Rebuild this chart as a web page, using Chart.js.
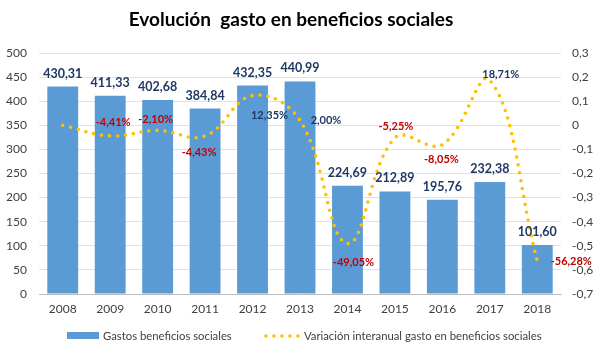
<!DOCTYPE html>
<html>
<head>
<meta charset="utf-8">
<script src="https://cdn.jsdelivr.net/npm/chart.js@4"></script>
<style>
  html, body { margin: 0; padding: 0; background: #ffffff; }
  #wrap { width: 600px; height: 355px; }
</style>
</head>
<body>
<div id="wrap"><canvas id="c" width="600" height="355"></canvas></div>
<script>
// ---- Data ----
const categories = ['2008','2009','2010','2011','2012','2013','2014','2015','2016','2017','2018'];
const gastos = [430.31, 411.33, 402.68, 384.84, 432.35, 440.99, 224.69, 212.89, 195.76, 232.38, 101.60];
const variacion = [0, -0.0441, -0.0210, -0.0443, 0.1235, 0.0200, -0.4905, -0.0525, -0.0805, 0.1871, -0.5628];
const showVarLabel = [false, true, true, true, true, true, true, true, true, true, true];
const leftTicks = [0, 50, 100, 150, 200, 250, 300, 350, 400, 450, 500];
const rightTicks = [-0.7, -0.6, -0.5, -0.4, -0.3, -0.2, -0.1, 0, 0.1, 0.2, 0.3];
const titleText = 'Evolución  gasto en beneficios sociales';
const seriesNames = ['Gastos beneficios sociales', 'Variación interanual gasto en beneficios sociales'];

// label placement offsets relative to each line point [dx, dy]
const varLabelOffset = [[0,0],[3,-13],[-2,-11],[-6,16],[17,20],[26,0],[6,19],[1,-11],[-1,15],[11,-6],[34,1]];

const BAR_COLOR = '#5B9BD5';
const LINE_COLOR = '#FFC000';
const NAVY = '#1F3864';
const RED = '#C00000';
const FONT = 'Lato, "Noto Sans", sans-serif';

function fmtComma(v, d) {
  return v.toFixed(d).replace('.', ',');
}

const labelPlugin = {
  id: 'labels',
  afterDatasetsDraw(chart) {
    const ctx = chart.ctx;
    ctx.save();
    // bar labels
    const m0 = chart.getDatasetMeta(0);
    ctx.font = 'bold 12.5px ' + FONT;
    ctx.fillStyle = NAVY;
    ctx.textAlign = 'center';
    ctx.textBaseline = 'middle';
    m0.data.forEach((el, i) => {
      ctx.fillText(fmtComma(gastos[i], 2), el.x, el.y - 13);
    });
    // line labels
    const m1 = chart.getDatasetMeta(1);
    ctx.font = 'bold 11px ' + FONT;
    m1.data.forEach((el, i) => {
      if (!showVarLabel[i]) return;
      const v = variacion[i];
      ctx.fillStyle = v < 0 ? RED : NAVY;
      const [dx, dy] = varLabelOffset[i];
      ctx.fillText(fmtComma(v * 100, 2) + '%', el.x + dx, el.y + dy);
    });
    ctx.restore();
  },
  afterDraw(chart) {
    const ctx = chart.ctx;
    ctx.save();
    // title
    ctx.font = 'bold 19px ' + FONT;
    ctx.fillStyle = '#000000';
    ctx.textAlign = 'center';
    ctx.textBaseline = 'middle';
    ctx.fillText(titleText, 291, 20);
    // legend
    const ly = 335;
    ctx.fillStyle = BAR_COLOR;
    ctx.fillRect(67, ly - 3, 32, 7);
    ctx.font = '11.3px ' + FONT;
    ctx.fillStyle = '#404040';
    ctx.textAlign = 'left';
    ctx.fillText(seriesNames[0], 103, ly + 1);
    ctx.fillStyle = LINE_COLOR;
    for (let k = 0; k < 5; k++) {
      ctx.beginPath();
      ctx.arc(266 + k * 8, ly + 1, 1.8, 0, Math.PI * 2);
      ctx.fill();
    }
    ctx.fillStyle = '#404040';
    ctx.fillText(seriesNames[1], 304, ly + 1);
    ctx.restore();
  }
};

new Chart(document.getElementById('c'), {
  data: {
    labels: categories,
    datasets: [
      {
        type: 'bar',
        label: seriesNames[0],
        data: gastos,
        backgroundColor: BAR_COLOR,
        yAxisID: 'y',
        order: 2,
        categoryPercentage: 1.0,
        barPercentage: 0.65
      },
      {
        type: 'line',
        label: seriesNames[1],
        data: variacion,
        borderColor: LINE_COLOR,
        borderWidth: 3.6,
        borderDash: [0, 8],
        borderCapStyle: 'round',
        tension: 0.4,
        pointRadius: 0,
        fill: false,
        yAxisID: 'y1',
        order: 1
      }
    ]
  },
  options: {
    responsive: false,
    animation: false,
    devicePixelRatio: 1,
    layout: { padding: { top: 53, bottom: 31, left: 0, right: 0 } },
    plugins: {
      legend: { display: false },
      title: { display: false },
      tooltip: { enabled: false }
    },
    scales: {
      x: {
        grid: { display: false, drawTicks: false },
        border: { display: true, color: '#BFBFBF' },
        ticks: { font: { family: FONT, size: 12 }, color: '#404040', padding: 8 },
        afterFit(s) { s.height = 30; }
      },
      y: {
        position: 'left',
        min: 0, max: 500,
        afterBuildTicks(s) { s.ticks = leftTicks.map(v => ({ value: v })); },
        grid: { color: '#D9E2EF', drawTicks: false },
        border: { display: false },
        ticks: { font: { family: FONT, size: 12 }, color: '#404040', padding: 12 },
        afterFit(s) { s.width = 39; }
      },
      y1: {
        position: 'right',
        min: -0.7, max: 0.3,
        afterBuildTicks(s) { s.ticks = rightTicks.map(v => ({ value: v })); },
        grid: { display: false, drawTicks: false },
        border: { display: false },
        ticks: {
          font: { family: FONT, size: 12 }, color: '#404040', padding: 11,
          callback(v) { return Math.abs(v) < 1e-9 ? '0' : fmtComma(v, 1); }
        },
        afterFit(s) { s.width = 39; }
      }
    }
  },
  plugins: [labelPlugin]
});
</script>
</body>
</html>
